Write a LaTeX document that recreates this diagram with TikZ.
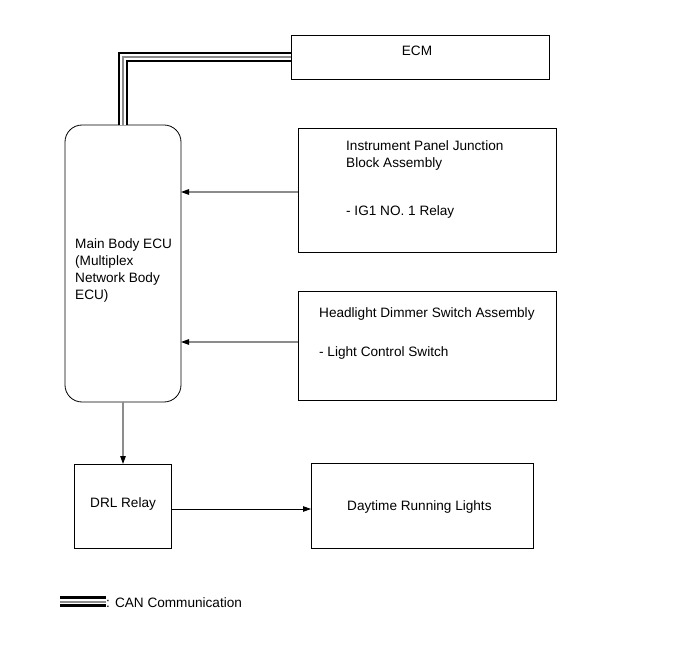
\documentclass[tikz,border=0pt]{standalone}
\usepackage{fontspec}
\setmainfont{Liberation Sans}
\usetikzlibrary{arrows.meta, positioning}

\definecolor{wiregray}{RGB}{140,140,140}

\begin{document}
\begin{tikzpicture}[
    x=1pt, y=-1pt,
    box/.style={draw, line width=0.8pt, inner sep=0pt, outer sep=0pt},
    txt/.style={inner sep=0pt, align=left, anchor=west,
                font=\fontsize{13.6pt}{17pt}\selectfont},
    wire/.style={wiregray, line width=1.2pt,
                 -{Triangle[length=8pt, width=5.5pt, color=black]}},
    can/.style={line width=10.5pt, line join=miter, black,
                postaction={draw, white, line width=5.6pt},
                postaction={draw, wiregray, line width=2pt}}
  ]
  \useasboundingbox (0,0) rectangle (691,660);

  % Boxes
  \node[box, minimum width=258pt, minimum height=44pt] (ecm) at (420,57) {};
  \node[box, rounded corners=17pt, minimum width=116pt, minimum height=277pt]
    (ecu) at (123,263.5) {};
  \node[box, minimum width=258pt, minimum height=124pt] (ipj) at (427,190) {};
  \node[box, minimum width=258pt, minimum height=109pt, below=39pt of ipj] (hds) {};
  \node[box, minimum width=97pt, minimum height=84pt] (drl) at (122.5,506) {};
  \node[box, minimum width=222pt, minimum height=85pt, right=140pt of drl] (dtl) {};

  % Texts
  \node[txt, anchor=center] (ecmtxt) at (417,51) {ECM};
  \node[txt] (ecutxt) at (75,270) {Main Body ECU\\(Multiplex\\Network Body\\ECU)};
  \node[txt] (ipjtxt) at (346,155.5) {Instrument Panel Junction\\Block Assembly};
  \node[txt] (ipjsub) at (346,212) {- IG1 NO. 1 Relay};
  \node[txt] (hdstxt) at (319,314) {Headlight Dimmer Switch Assembly};
  \node[txt] (hdssub) at (319,353) {- Light Control Switch};
  \node[txt] (drltxt) at (90,504) {DRL Relay};
  \node[txt] (dtltxt) at (347,507) {Daytime Running Lights};

  % CAN line
  \draw[can] (ecu.north) |- (ecm.west);

  % Signal lines
  \draw[wire] ([yshift=-2pt]ipj.west) -- ([yshift=-2pt]ipj.west -| ecu.east);
  \draw[wire] ([yshift=3.5pt]hds.west) -- ([yshift=3.5pt]hds.west -| ecu.east);
  \draw[wire] (ecu.south) -- (ecu.south |- drl.north);
  \draw[wire, black, line width=0.8pt] ([yshift=-3pt]drl.east) -- ([yshift=-3pt]drl.east -| dtl.west);

  % Legend
  \coordinate (leg) at (60,601.5);
  \node[txt] (legtxt) at (106,603) {: CAN Communication};
  \draw[can] (leg) -- (leg -| legtxt.west);

\end{tikzpicture}
\end{document}
